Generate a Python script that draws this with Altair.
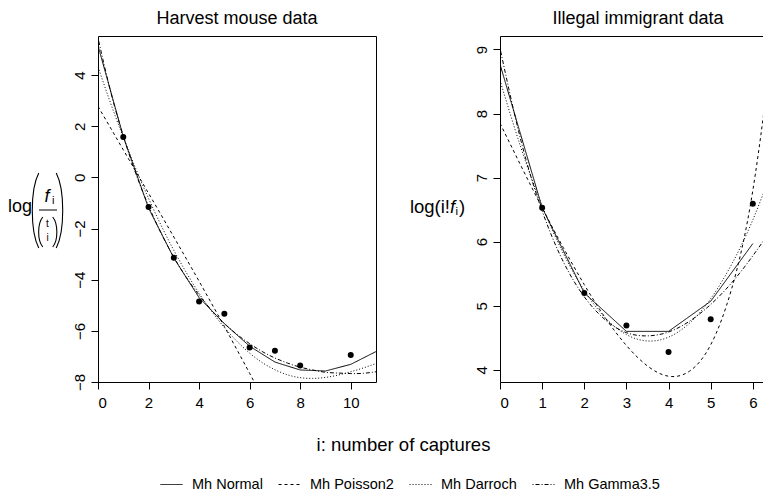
import altair as alt
import pandas as pd

FONT = "Liberation Sans"
MODELS = ["Mh Normal", "Mh Poisson2", "Mh Darroch", "Mh Gamma3.5"]
DASHES = [[1, 0], [3, 3], [1, 2], [1, 2, 4, 2]]

# ---------------- Harvest mouse data ----------------
mouse_pts_i = [1, 2, 3, 4, 5, 6, 7, 8, 10]
mouse_pts_y = [1.58, -1.16, -3.14, -4.85, -5.33, -6.65, -6.78, -7.35, -6.94]
mouse_int_i = [0, 1, 2, 3, 4, 5, 6, 7, 8, 9, 10, 11]
mouse_normal = [5.15, 1.6, -1.2, -3.15, -4.7, -5.72, -6.6, -7.22, -7.53, -7.57, -7.31, -6.81]
mouse_grid_i = [0, 0.5, 1, 1.5, 2, 2.5, 3, 3.5, 4, 4.5, 5, 5.5, 6, 6.5, 7, 7.5, 8, 8.5,
                9, 9.5, 10, 10.5, 11]
mouse_poisson2 = [2.78, 1.93, 1.08, 0.23, -0.62, -1.47, -2.33, -3.19, -4.06, -4.94, -5.83,
                  -6.74, -7.66, -8.6]
mouse_darroch = [4.32, 2.9, 1.57, 0.33, -0.82, -1.88, -2.85, -3.73, -4.53, -5.24, -5.87,
                 -6.41, -6.87, -7.24, -7.52, -7.72, -7.83, -7.86, -7.82, -7.73, -7.6, -7.45, -7.28]
mouse_gamma = [5.45, 3.36, 1.62, 0.14, -1.11, -2.19, -3.12, -3.92, -4.6, -5.2, -5.71, -6.14,
               -6.5, -6.81, -7.06, -7.26, -7.42, -7.53, -7.62, -7.65, -7.67, -7.66, -7.6]

# ---------------- Illegal immigrant data ----------------
imm_pts_i = [1, 2, 3, 4, 5, 6]
imm_pts_y = [6.53, 5.2, 4.69, 4.28, 4.79, 6.59]
imm_int_i = [0, 1, 2, 3, 4, 5, 6]
imm_normal = [8.77, 6.53, 5.2, 4.6, 4.6, 5.07, 5.97]
imm_grid_i = [0, 0.5, 1, 1.5, 2, 2.5, 3, 3.5, 4, 4.5, 5, 5.5, 6, 6.5]
imm_poisson2 = [7.85, 7.18, 6.53, 5.91, 5.33, 4.81, 4.38, 4.06, 3.9, 3.98, 4.39, 5.27, 6.8, 9.28]
imm_darroch = [8.52, 7.46, 6.56, 5.82, 5.24, 4.81, 4.55, 4.45, 4.51, 4.73, 5.11, 5.65, 6.34, 7.2]
imm_gamma = [9.02, 7.57, 6.48, 5.69, 5.14, 4.78, 4.58, 4.53, 4.59, 4.76, 5.02, 5.36, 5.78, 6.25]


def curve(xs, ys, model):
    return pd.DataFrame({"i": xs[:len(ys)], "v": ys, "model": model})


one = pd.DataFrame({"k": [0]})

dash = alt.StrokeDash(
    "model:N",
    scale=alt.Scale(domain=MODELS, range=DASHES),
    legend=alt.Legend(
        title=None, orient="none", legendX=62, legendY=437, direction="horizontal",
        symbolType="stroke", symbolSize=484, symbolStrokeWidth=1,
        symbolStrokeColor="black", labelFont=FONT, labelFontSize=14.5,
        labelColor="black", labelOffset=9, columnPadding=13,
    ),
)

LP_BIG = "M0.1,-1 C-0.13,-0.55 -0.13,0.55 0.1,1"
RP_BIG = "M-0.1,-1 C0.13,-0.55 0.13,0.55 -0.1,1"
LP_SM = "M0.12,-1 C-0.25,-0.55 -0.25,0.55 0.12,1"
RP_SM = "M-0.12,-1 C0.25,-0.55 0.25,0.55 -0.12,1"


def txt(s, x, y, size, align="center", baseline="middle", style="normal"):
    return alt.Chart(one).mark_text(
        text=s, align=align, baseline=baseline, fontSize=size, font=FONT,
        fontStyle=style, color="black",
    ).encode(x=alt.value(x), y=alt.value(y))


def paren(path, x, y, h):
    return alt.Chart(one).mark_point(
        shape=path, size=h * h, filled=False, stroke="black", strokeWidth=1.1, opacity=1,
    ).encode(x=alt.value(x), y=alt.value(y))


def panel(title, pts_i, pts_y, int_i, normal, grid_i, smooth, xdom, ydom, xticks, yticks,
          width, xtitle, annotations):
    xaxis = alt.Axis(
        values=xticks, tickSize=7, labelFontSize=15, labelPadding=6, labelFont=FONT,
        labelColor="black", tickColor="black", domain=False, grid=False,
        title=xtitle, titleX=305, titleY=68.5, titleAlign="center",
        titleBaseline="alphabetic", titleFontSize=18.5, titleFontWeight="normal",
        titleFont=FONT, titleColor="black",
    )
    yaxis = alt.Axis(
        values=yticks, tickSize=7, labelFontSize=15, labelPadding=7, labelFont=FONT,
        labelColor="black", tickColor="black", domain=False, grid=False,
        labelAngle=270, labelAlign="center", labelBaseline="alphabetic", title="",
    )
    xenc = alt.X("i:Q", scale=alt.Scale(domain=xdom, nice=False, zero=False), axis=xaxis)
    yenc = alt.Y("v:Q", scale=alt.Scale(domain=ydom, nice=False, zero=False), axis=yaxis)

    normal_df = curve(int_i, normal, "Mh Normal")
    smooth_df = pd.concat([curve(grid_i, ys, m) for m, ys in smooth], ignore_index=True)
    pts_df = pd.DataFrame({"i": pts_i, "v": pts_y})

    l_normal = alt.Chart(normal_df).mark_line(
        clip=True, color="black", strokeWidth=1).encode(x=xenc, y=yenc, strokeDash=dash)
    l_smooth = alt.Chart(smooth_df).mark_line(
        clip=True, color="black", strokeWidth=1, interpolate="natural").encode(
        x=xenc, y=yenc, strokeDash=dash)
    pts = alt.Chart(pts_df).mark_circle(size=36, color="black", opacity=1).encode(x=xenc, y=yenc)

    return alt.layer(l_normal, l_smooth, pts, *annotations).properties(
        width=width, height=346,
        title=alt.TitleParams(title, fontSize=18, font=FONT, fontWeight="normal",
                              color="black", offset=0, dy=5.5, baseline="alphabetic",
                              anchor="middle"),
    )


left_ann = [
    txt("log", -66, 171, 18, align="right"),
    paren(LP_BIG, -63, 174.5, 75),
    paren(RP_BIG, -38, 174.5, 75),
    txt("f", -51, 166, 18, baseline="alphabetic", style="italic"),
    txt("i", -46, 168, 11, align="left", baseline="alphabetic"),
    alt.Chart(one).mark_rule(color="black", strokeWidth=1).encode(
        x=alt.value(-59), x2=alt.value(-41), y=alt.value(174)),
    paren(LP_SM, -57, 196, 30),
    paren(RP_SM, -43.5, 196, 30),
    txt("t", -50.5, 188, 10),
    txt("i", -50.5, 202, 10),
]

right_ann = [
    txt("log(i!", -50, 171, 18.5, align="right"),
    txt("f", -50, 171, 18.5, align="left", style="italic"),
    txt("i", -44.5, 176, 11.5, align="left"),
    txt(")", -41, 171, 18.5, align="left"),
]

left = panel(
    "Harvest mouse data", mouse_pts_i, mouse_pts_y, mouse_int_i, mouse_normal, mouse_grid_i,
    [("Mh Poisson2", mouse_poisson2), ("Mh Darroch", mouse_darroch), ("Mh Gamma3.5", mouse_gamma)],
    [0, 11], [-8, 5.53], [0, 2, 4, 6, 8, 10], [-8, -6, -4, -2, 0, 2, 4], 278,
    "i: number of captures", left_ann,
)
right = panel(
    "Illegal immigrant data", imm_pts_i, imm_pts_y, imm_int_i, imm_normal, imm_grid_i,
    [("Mh Poisson2", imm_poisson2), ("Mh Darroch", imm_darroch), ("Mh Gamma3.5", imm_gamma)],
    [0, 6.55], [3.81, 9.21], [0, 1, 2, 3, 4, 5, 6], [4, 5, 6, 7, 8, 9], 276,
    "", right_ann,
)

chart = alt.hconcat(left, right, spacing=124, bounds="flush").resolve_scale(
    strokeDash="shared").resolve_legend(strokeDash="shared").properties(
    autosize=alt.AutoSizeParams(type="none"),
    padding={"left": 90, "top": 28, "right": 665, "bottom": 450},
    background="white",
).configure_view(stroke="black", strokeWidth=1)

chart.save("out.html", embed_options={"renderer": "svg", "actions": False})
